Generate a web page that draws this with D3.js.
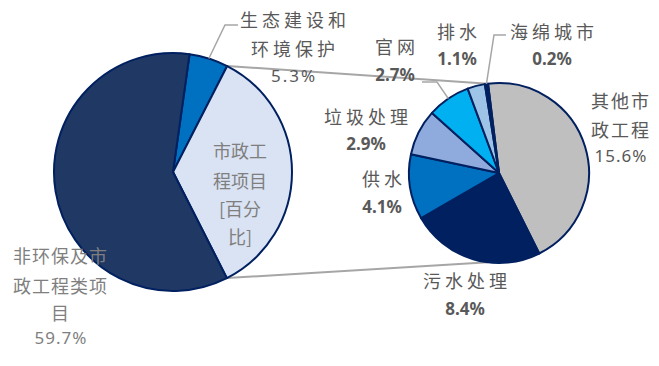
<!DOCTYPE html>
<html>
<head>
<meta charset="utf-8">
<script src="https://cdn.jsdelivr.net/npm/d3@7"></script>
<style>
  body { margin: 0; background: #fff; }
  svg { display: block; }
</style>
</head>
<body>
<div id="chart"></div>
<script>
// main pie data
const mainNames = ["生态建设和环境保护", "市政工程项目[百分比]", "非环保及市政工程类项目"];
const mainValues = [5.3, 35.0, 59.7];

// secondary pie data (breakdown of 市政工程项目)
const subNames = ["其他市政工程", "污水处理", "供水", "垃圾处理", "官网", "排水", "海绵城市"];
const subValues = [15.6, 8.4, 4.1, 2.9, 2.7, 1.1, 0.2];

const mainColors = ["#0070C0", "#DAE3F3", "#203864"];
const subColors = ["#BFBFBF", "#002060", "#0070C0", "#8FAADC", "#00B0F0", "#9DC3E6", "#002060"];

const width = 659, height = 366;
const deg = Math.PI / 180;

const svg = d3.select("#chart").append("svg")
    .attr("width", width)
    .attr("height", height);

const main = {cx: 173, cy: 172, r: 119, start: 8 * deg};
const sub = {cx: 499, cy: 173, r: 90, start: -7 * deg};

const pt = (c, a, r) => [c.cx + r * Math.sin(a), c.cy - r * Math.cos(a)];

const mainArcs = d3.pie().sort(null)
    .startAngle(main.start).endAngle(main.start + 2 * Math.PI)(mainValues);
const subArcs = d3.pie().sort(null)
    .startAngle(sub.start).endAngle(sub.start + 2 * Math.PI)(subValues);

// connector lines between the two pies
const split = mainArcs[1];
const connectors = [
    [pt(main, split.startAngle, main.r), pt(sub, sub.start, sub.r)],
    [pt(main, split.endAngle, main.r), pt(sub, Math.PI - sub.start, sub.r)]
];
svg.append("g").selectAll("line")
    .data(connectors)
    .join("line")
    .attr("x1", d => d[0][0]).attr("y1", d => d[0][1])
    .attr("x2", d => d[1][0]).attr("y2", d => d[1][1])
    .attr("stroke", "#A6A6A6")
    .attr("stroke-width", 2);

// draw pies
const drawPie = (c, arcs, colors) => {
    const arc = d3.arc().innerRadius(0).outerRadius(c.r);
    svg.append("g")
        .attr("transform", `translate(${c.cx},${c.cy})`)
        .selectAll("path")
        .data(arcs)
        .join("path")
        .attr("d", arc)
        .attr("fill", (d, i) => colors[i])
        .attr("stroke", "#002060")
        .attr("stroke-width", 2)
        .attr("stroke-linejoin", "round");
};
drawPie(main, mainArcs, mainColors);
drawPie(sub, subArcs, subColors);

// leader lines: start at slice edge midpoint, then elbow and run
const leaders = [
    {c: main, a: mainArcs[0], elbow: [225, 25], end: [238, 25]},
    {c: sub, a: subArcs[4], elbow: [437, 82], end: [422, 82]},
    {c: sub, a: subArcs[6], elbow: [494, 35], end: [506, 35]}
];
svg.append("g").selectAll("polyline")
    .data(leaders)
    .join("polyline")
    .attr("points", d => {
        const p = pt(d.c, (d.a.startAngle + d.a.endAngle) / 2, d.c.r);
        return [p, d.elbow, d.end].map(q => q.join(",")).join(" ");
    })
    .attr("fill", "none")
    .attr("stroke", "#A6A6A6")
    .attr("stroke-width", 1.5);

// labels
const fmt = v => v.toFixed(1) + "%";
const wrap = (s, n) => {
    const out = [];
    for (let i = 0; i < s.length; i += n) out.push(s.slice(i, i + n));
    return out;
};

const labels = [
    {name: mainNames[0], value: mainValues[0], wrap: 5, x: 293, y: [19, 48, 75], spacing: 4, color: "#595959", bold: false},
    {name: mainNames[1], value: null, wrap: 3, x: 240, y: [150, 180, 208, 236], spacing: 0, color: "#7F7F7F", bold: false},
    {name: mainNames[2], value: mainValues[2], wrap: 5, x: 60, y: [255, 285, 312, 337], spacing: 1, color: "#7F7F7F", bold: false},
    {name: subNames[0], value: subValues[0], wrap: 3, x: 620, y: [100, 129, 155], spacing: 2, color: "#595959", bold: false},
    {name: subNames[1], value: subValues[1], wrap: 4, x: 465, y: [280, 308], spacing: 4, color: "#595959", bold: true},
    {name: subNames[2], value: subValues[2], wrap: 4, x: 382, y: [178, 206], spacing: 4, color: "#595959", bold: true},
    {name: subNames[3], value: subValues[3], wrap: 4, x: 366, y: [116, 143], spacing: 4, color: "#595959", bold: true},
    {name: subNames[4], value: subValues[4], wrap: 4, x: 395, y: [46, 74], spacing: 4, color: "#595959", bold: true},
    {name: subNames[5], value: subValues[5], wrap: 4, x: 457, y: [31, 58], spacing: 4, color: "#595959", bold: true},
    {name: subNames[6], value: subValues[6], wrap: 4, x: 552, y: [31, 58], spacing: 4, color: "#595959", bold: true}
];

const labelG = svg.append("g");
labels.forEach(l => {
    const lines = wrap(l.name, l.wrap);
    lines.forEach((t, i) => {
        labelG.append("text")
            .attr("x", l.x + l.spacing / 2)
            .attr("y", l.y[i])
            .attr("text-anchor", "middle")
            .attr("dominant-baseline", "central")
            .attr("font-family", "'Noto Sans CJK SC', 'Noto Sans', sans-serif")
            .attr("font-size", 18)
            .attr("letter-spacing", l.spacing)
            .attr("fill", l.color)
            .text(t);
    });
    if (l.value !== null) {
        labelG.append("text")
            .attr("x", l.x + (l.bold ? 0 : 1))
            .attr("y", l.y[lines.length])
            .attr("text-anchor", "middle")
            .attr("dominant-baseline", "central")
            .attr("font-family", "'Noto Sans', 'Open Sans', sans-serif")
            .attr("font-size", l.bold ? 17 : 17)
            .attr("font-weight", l.bold ? "bold" : "normal")
            .attr("letter-spacing", l.bold ? 0 : (l === labels[0] ? 2 : 1))
            .attr("fill", l.color)
            .text(fmt(l.value));
    }
});
</script>
</body>
</html>
